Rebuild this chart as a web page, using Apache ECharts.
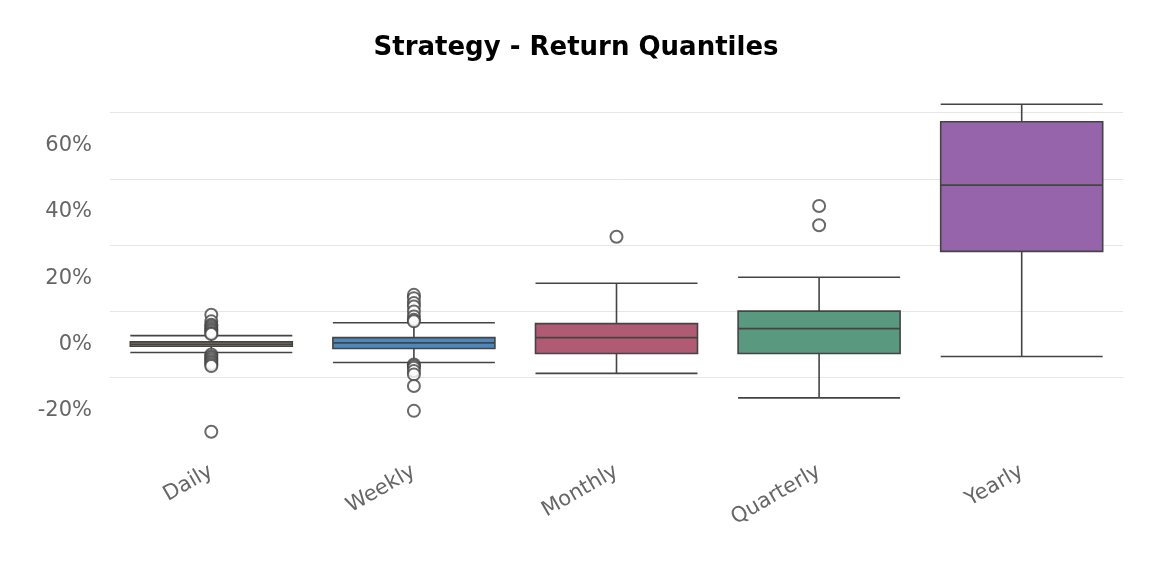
<!DOCTYPE html><html><head><meta charset="utf-8">
<script src="https://cdn.jsdelivr.net/npm/echarts@6/dist/echarts.min.js"></script>
<style>html,body{margin:0;background:#fff}#c{width:1152px;height:576px}</style></head><body><div id="c"></div>
<script>
const categories=['Daily','Weekly','Monthly','Quarterly','Yearly'];
const colors=['#8f7f5e','#4d87bb','#b15a73','#58997f','#9664aa'];
// [min whisker, q1, median, q3, max whisker]
const boxes=[[-2.4,-0.5,0.1,0.8,2.7],[-5.4,-1.2,0.5,2.1,6.6],[-8.7,-2.7,2.1,6.3,18.5],[-16.1,-2.7,4.8,10.1,20.3],[-3.6,28.1,48.1,67.2,72.5]];
const outDaily=[9,7,6,5.5,5,4.5,4,3.5,3.2,-3,-3.5,-4,-4.5,-5,-5.5,-6,-6.5,-26.3];
const outWeekly=[15,14,12.5,11.5,10,8.5,7.5,7,-6,-6.5,-7,-8,-9,-12.5,-20];
const outMonthly=[32.5];
const outQuarterly=[41.8,36];
const outliers=[[0,outDaily],[1,outWeekly],[2,outMonthly],[3,outQuarterly]].flatMap(([i,a])=>a.map(v=>[i,v]));
const chart=echarts.init(document.getElementById('c'));
chart.setOption({
 animation:false,
 title:{text:'Strategy - Return Quantiles',left:'center',top:30,textStyle:{fontFamily:'DejaVu Sans',fontSize:26,fontWeight:'bold',color:'#000'}},
 grid:{left:110,right:29,top:86,bottom:132},
 xAxis:{type:'category',data:categories,axisLine:{show:false},axisTick:{show:false},
  axisLabel:{rotate:30,fontSize:21,color:'#666',fontFamily:'DejaVu Sans',margin:26}},
 yAxis:{type:'value',min:-30,max:78,interval:10,axisLine:{show:false},axisTick:{show:false},
  axisLabel:{fontSize:21,color:'#666',fontFamily:'DejaVu Sans',margin:18,formatter:v=>(v%20===0?v+'%':'')},
  splitLine:{showMinLine:false,showMaxLine:false,lineStyle:{color:['transparent','#e6e6e6'],width:1}}},
 series:[
  {type:'boxplot',boxWidth:[162,162],data:boxes.map((b,i)=>({value:b,itemStyle:{color:colors[i],borderColor:'#444',borderWidth:1.6}}))},
  {type:'scatter',z:5,data:outliers,symbol:'emptyCircle',symbolSize:12,itemStyle:{color:'#444',borderColor:'#444',borderWidth:2}}
 ]
});
</script></body></html>
